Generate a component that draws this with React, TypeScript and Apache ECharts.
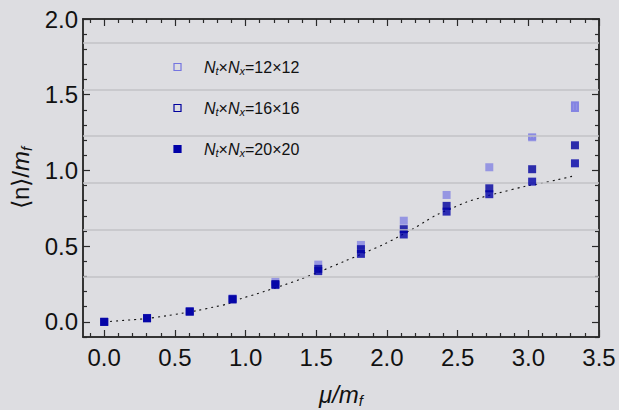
import React, { useEffect, useRef } from "react";
import * as echarts from "echarts";

// mu / m_f values of the measurements
const mu = [0, 0.303, 0.605, 0.908, 1.211, 1.514, 1.816, 2.119, 2.422, 2.724, 3.027, 3.33];
// <n>/m_f for the three lattice sizes
const n12 = [0, 0.026, 0.07, 0.155, 0.265, 0.378, 0.508, 0.668, 0.838, 1.021, 1.219, 1.421];
const err12 = [0, 0, 0, 0, 0, 0, 0, 0, 0, 0, 0.006, 0.022];
const n16 = [0, 0.024, 0.068, 0.15, 0.25, 0.35, 0.48, 0.612, 0.766, 0.882, 1.008, 1.166];
const n20 = [0, 0.024, 0.068, 0.148, 0.243, 0.335, 0.449, 0.577, 0.728, 0.843, 0.926, 1.047];
// dashed reference curve
const curveX = [0, 0.3, 0.44, 0.55, 0.66, 0.77, 0.88, 0.97, 1.08, 1.13, 1.28, 1.39, 1.52, 1.7, 1.85, 1.98, 2.08, 2.18, 2.27, 2.36, 2.46, 2.56, 2.67, 2.78, 2.99, 3.09, 3.2, 3.3, 3.33];
const curveY = [0, 0.022, 0.04, 0.057, 0.075, 0.097, 0.12, 0.154, 0.185, 0.2, 0.246, 0.282, 0.33, 0.4, 0.46, 0.513, 0.561, 0.612, 0.662, 0.711, 0.75, 0.79, 0.822, 0.849, 0.898, 0.915, 0.937, 0.959, 0.965];
// horizontal grid levels
const gridLevels = [0.304, 0.607, 0.917, 1.228, 1.531, 1.837];
// tick labels
const xMajor = [0, 0.5, 1, 1.5, 2, 2.5, 3, 3.5];
const yMajor = [0, 0.5, 1, 1.5, 2];
const legendLabels = ["12×12", "16×16", "20×20"];

function minorTicks(lo: number, hi: number): number[] {
  const out: number[] = [];
  for (let k = Math.round(lo * 10); k <= Math.round(hi * 10); k++) {
    if (k % 5 !== 0) out.push(k / 10);
  }
  return out;
}
const xMinor = minorTicks(-0.1, 3.4);
const yMinor = minorTicks(-0.1, 1.9);

const FONT = "'Liberation Sans', Arial, sans-serif";
const BG = "#dddde1";
const LIGHT = "#8585e2";
const DARK16 = "#00009e";
const DARK20 = "#0000a8";

export default function App() {
  const ref = useRef<HTMLDivElement>(null);
  useEffect(() => {
    if (!ref.current) return;
    const chart = echarts.init(ref.current, null, { renderer: "svg" });
    const axisLine = { show: true, onZero: false, lineStyle: { color: "#2a2a2a", width: 1.5 } };
    const tickLine = { color: "#2a2a2a", width: 1.2 };
    const xBase = { type: "value", min: -0.15, max: 3.5, splitLine: { show: false }, axisLine };
    const yBase = { type: "value", min: -0.1, max: 2.0, splitLine: { show: false }, axisLine };
    const labelStyle = { fontSize: 24, color: "#111", fontFamily: FONT, formatter: (v: number) => v.toFixed(1) };

    const mk = (xs: number[], ys: number[]) => xs.map((x, i) => [x, ys[i]]);

    const legendItems: any[] = [];
    const legendStyles = [
      { fill: "transparent", stroke: "#7474e0" },
      { fill: "transparent", stroke: DARK16 },
      { fill: DARK20, stroke: DARK20 },
    ];
    const legendY = [67, 108, 149];
    legendLabels.forEach((lab, i) => {
      legendItems.push({
        type: "rect",
        shape: { x: 174, y: legendY[i] - 3.5, width: 7, height: 7 },
        style: { ...legendStyles[i], lineWidth: 1.2 },
        z: 10,
      });
      legendItems.push({
        type: "text",
        x: 204,
        y: legendY[i],
        z: 10,
        style: {
          text: "{i|N}{s|t}×{i|N}{s|x}=" + lab,
          fontSize: 16,
          fontFamily: FONT,
          fill: "#111",
          verticalAlign: "middle",
          align: "left",
          rich: {
            i: { fontStyle: "italic", fontSize: 16, fontFamily: FONT, fill: "#111" },
            s: { fontStyle: "italic", fontSize: 11, fontFamily: FONT, fill: "#111", padding: [8, 0, 0, 0] },
          },
        },
      });
    });

    chart.setOption({
      animation: false,
      backgroundColor: BG,
      grid: { left: 83, right: 20, top: 19, bottom: 73 },
      xAxis: [
        {
          ...xBase,
          position: "bottom",
          axisTick: { show: true, inside: true, length: 7, customValues: xMajor, lineStyle: tickLine },
          axisLabel: { ...labelStyle, customValues: xMajor, margin: 8 },
        },
        {
          ...xBase,
          position: "bottom",
          axisTick: { show: true, inside: true, length: 4, customValues: xMinor, lineStyle: tickLine },
          axisLabel: { show: false },
        },
        {
          ...xBase,
          position: "top",
          axisTick: { show: true, inside: true, length: 7, customValues: xMajor, lineStyle: tickLine },
          axisLabel: { show: false },
        },
        {
          ...xBase,
          position: "top",
          axisTick: { show: true, inside: true, length: 4, customValues: xMinor, lineStyle: tickLine },
          axisLabel: { show: false },
        },
      ],
      yAxis: [
        {
          ...yBase,
          position: "left",
          axisTick: { show: true, inside: true, length: 7, customValues: yMajor, lineStyle: tickLine },
          axisLabel: { ...labelStyle, customValues: yMajor, margin: 5 },
        },
        {
          ...yBase,
          position: "left",
          axisTick: { show: true, inside: true, length: 4, customValues: yMinor, lineStyle: tickLine },
          axisLabel: { show: false },
        },
        {
          ...yBase,
          position: "right",
          axisTick: { show: true, inside: true, length: 7, customValues: yMajor, lineStyle: tickLine },
          axisLabel: { show: false },
        },
        {
          ...yBase,
          position: "right",
          axisTick: { show: true, inside: true, length: 4, customValues: yMinor, lineStyle: tickLine },
          axisLabel: { show: false },
        },
      ],
      graphic: [
        {
          type: "text",
          x: 20,
          y: 178,
          rotation: Math.PI / 2,
          style: {
            text: "⟨n⟩/{i|m}{s|f}",
            fontSize: 24,
            fontFamily: FONT,
            fill: "#111",
            align: "center",
            verticalAlign: "middle",
            rich: {
              i: { fontStyle: "italic", fontSize: 24, fontFamily: FONT, fill: "#111" },
              s: { fontStyle: "italic", fontSize: 15, fontFamily: FONT, fill: "#111", padding: [12, 0, 0, 0] },
            },
          },
        },
        {
          type: "text",
          x: 341,
          y: 394,
          style: {
            text: "{i|μ/m}{s|f}",
            fontSize: 24,
            fontFamily: FONT,
            fill: "#111",
            align: "center",
            verticalAlign: "middle",
            rich: {
              i: { fontStyle: "italic", fontSize: 24, fontFamily: FONT, fill: "#111" },
              s: { fontStyle: "italic", fontSize: 15, fontFamily: FONT, fill: "#111", padding: [12, 0, 0, 0] },
            },
          },
        },
        ...legendItems,
      ],
      series: [
        {
          type: "line",
          data: [],
          z: 1,
          silent: true,
          markLine: {
            silent: true,
            symbol: "none",
            label: { show: false },
            lineStyle: { color: "#c2c2c6", width: 1.5, type: "solid" },
            data: gridLevels.map((v) => ({ yAxis: v })),
          },
        },
        {
          type: "line",
          data: mk(curveX, curveY),
          smooth: 0.3,
          symbol: "none",
          showSymbol: false,
          z: 2,
          lineStyle: { color: "#111", width: 1.1, type: [2, 4] },
        },
        {
          type: "custom",
          z: 3,
          data: mu.map((x, i) => [x, n12[i], err12[i]]),
          renderItem: (params: any, api: any) => {
            const x = api.value(0);
            const y = api.value(1);
            const e = api.value(2);
            if (!e) return null;
            const top = api.coord([x, y + e]);
            const bot = api.coord([x, y - e]);
            return {
              type: "group",
              children: [
                { type: "rect", shape: { x: top[0] - 4, y: top[1] - 2, width: 8, height: bot[1] - top[1] + 4 }, style: { fill: LIGHT } },
                { type: "line", shape: { x1: top[0] - 1.5, y1: top[1], x2: top[0] - 1.5, y2: bot[1] }, style: { stroke: "#c8c8f0", lineWidth: 1 } },
                { type: "line", shape: { x1: top[0] + 1.5, y1: top[1], x2: top[0] + 1.5, y2: bot[1] }, style: { stroke: "#c8c8f0", lineWidth: 1 } },
              ],
            };
          },
        },
        {
          type: "scatter",
          data: mk(mu, n12),
          symbol: "rect",
          symbolSize: 8,
          z: 3,
          itemStyle: { color: LIGHT },
        },
        {
          type: "scatter",
          data: mk(mu, n16),
          symbol: "rect",
          symbolSize: 8,
          z: 4,
          itemStyle: { color: DARK16 },
        },
        {
          type: "scatter",
          data: mk(mu, n20),
          symbol: "rect",
          symbolSize: 8,
          z: 5,
          itemStyle: { color: DARK20 },
        },
      ],
    });
    return () => chart.dispose();
  }, []);
  return (
    <div
      ref={ref}
      style={{ position: "fixed", left: 0, top: 0, width: 619, height: 410, background: BG }}
    />
  );
}
